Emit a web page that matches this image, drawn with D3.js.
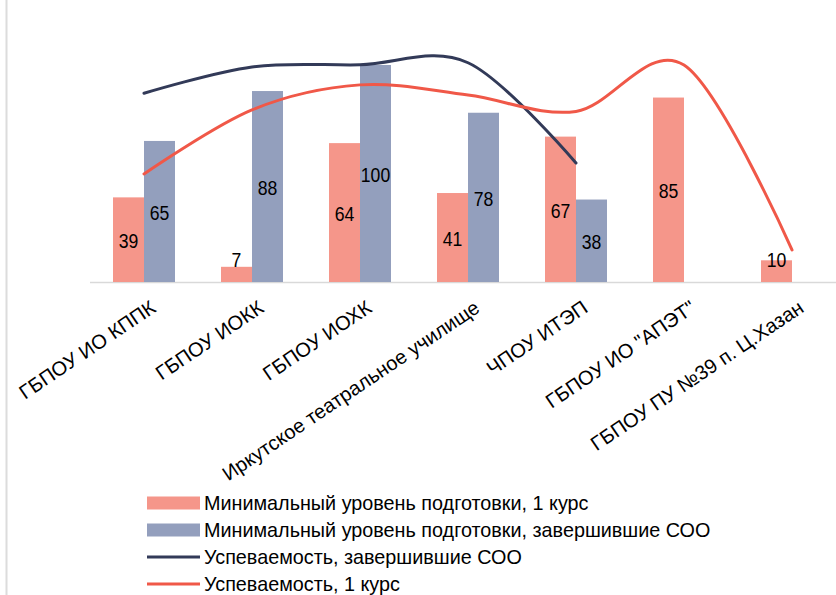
<!DOCTYPE html>
<html><head><meta charset="utf-8">
<script src="https://cdn.jsdelivr.net/npm/d3@7"></script>
<style>
body{margin:0;background:#fff}
svg{display:block}
text{font-family:"Liberation Sans",Arial,sans-serif;fill:#000}
</style>
</head><body>
<svg id="chart" width="836" height="595"></svg>
<script>
// ---- data ----
const categories = ["ГБПОУ ИО КППК", "ГБПОУ ИОКК", "ГБПОУ ИОХК", "Иркутское театральное училище", "ЧПОУ ИТЭП", "ГБПОУ ИО \"АПЭТ\"", "ГБПОУ ПУ №39 п. Ц.Хазан"];
const minLevel1 = [39, 7, 64, 41, 67, 85, 10];
const minLevelSOO = [65, 88, 100, 78, 38, null, null];
const successSOO = [72.5, 82.6, 83.4, 84.2, 45.7, null, null];
const success1 = [41.5, 66.1, 75.7, 71.8, 65.5, 83.3, 12.3];
const seriesNames = ["Минимальный уровень подготовки, 1 курс", "Минимальный уровень подготовки, завершившие СОО", "Успеваемость, завершившие СОО", "Успеваемость, 1 курс"];
const colors = ["#F5968A", "#939FBD", "#323A58", "#F05848"];

// ---- chart ----
const svg = d3.select("#chart");
svg.append("rect").attr("width", 836).attr("height", 595).attr("fill", "#fff");
svg.append("line").attr("x1", 6.5).attr("x2", 6.5).attr("y1", 0).attr("y2", 595)
  .attr("stroke", "#DCDCDC").attr("stroke-width", 2);

const base = 282;
const p = 46 / 108;
const x = d3.scaleBand().domain(categories).range([90, 846]).paddingInner(p).paddingOuter(p / 2);
const xs = d3.scaleBand().domain([0, 1]).range([0, x.bandwidth()]);
const y = d3.scaleLinear().domain([0, 120]).range([base, 21.6]);
const y2 = d3.scaleLinear().domain([0, 100]).range([base, 21.6]);
const cx = c => x(c) + x.bandwidth() / 2;

// axis baseline
svg.append("line").attr("x1", 90).attr("x2", 836).attr("y1", base + 0.5).attr("y2", base + 0.5)
  .attr("stroke", "#D9D9D9").attr("stroke-width", 1.5);

const barSeries = [minLevel1, minLevelSOO];
barSeries.forEach((vals, si) => {
  const g = svg.append("g");
  const data = categories.map((c, i) => ({c, v: vals[i]})).filter(d => d.v != null);
  g.selectAll("rect").data(data).join("rect")
    .attr("x", d => x(d.c) + xs(si))
    .attr("width", xs.bandwidth())
    .attr("y", d => y(d.v))
    .attr("height", d => base - y(d.v))
    .attr("fill", colors[si]);
});

// lines
const lineSeries = [successSOO, success1];
lineSeries.forEach((vals, li) => {
  const line = d3.line()
    .defined(d => d.v != null)
    .x(d => cx(d.c))
    .y(d => y2(d.v))
    .curve(d3.curveCatmullRom.alpha(0));
  svg.append("path")
    .datum(categories.map((c, i) => ({c, v: vals[i]})))
    .attr("d", line)
    .attr("fill", "none")
    .attr("stroke", colors[2 + li])
    .attr("stroke-width", 3)
    .attr("stroke-linecap", "round");
});

// data labels
barSeries.forEach((vals, si) => {
  categories.forEach((c, i) => {
    const v = vals[i];
    if (v == null) return;
    const lx = x(c) + xs(si) + xs.bandwidth() / 2;
    const ly = Math.min((y(v) + base) / 2, base - 24) + 1;
    svg.append("text")
      .attr("transform", `translate(${lx},${ly}) scale(0.84,1)`)
      .attr("text-anchor", "middle")
      .attr("dy", "0.36em")
      .style("font-size", "21px")
      .text(v);
  });
});

// category labels
categories.forEach(c => {
  svg.append("text")
    .attr("transform", `translate(${cx(c) + 5},299) rotate(-34)`)
    .attr("text-anchor", "end")
    .attr("dy", "0.72em")
    .style("font-size", "20px")
    .text(c);
});

// legend
const legend = svg.append("g");
seriesNames.forEach((name, i) => {
  const ry = 503 + i * 27;
  if (i < 2) {
    legend.append("rect").attr("x", 147).attr("y", ry - 6.5).attr("width", 53).attr("height", 13)
      .attr("fill", colors[i]);
  } else {
    legend.append("line").attr("x1", 147).attr("x2", 200).attr("y1", ry).attr("y2", ry)
      .attr("stroke", colors[i]).attr("stroke-width", 3);
  }
  legend.append("text")
    .attr("x", 204)
    .attr("y", ry)
    .attr("dy", "0.35em")
    .style("font-size", "19.8px")
    .text(name);
});
</script>
</body></html>
